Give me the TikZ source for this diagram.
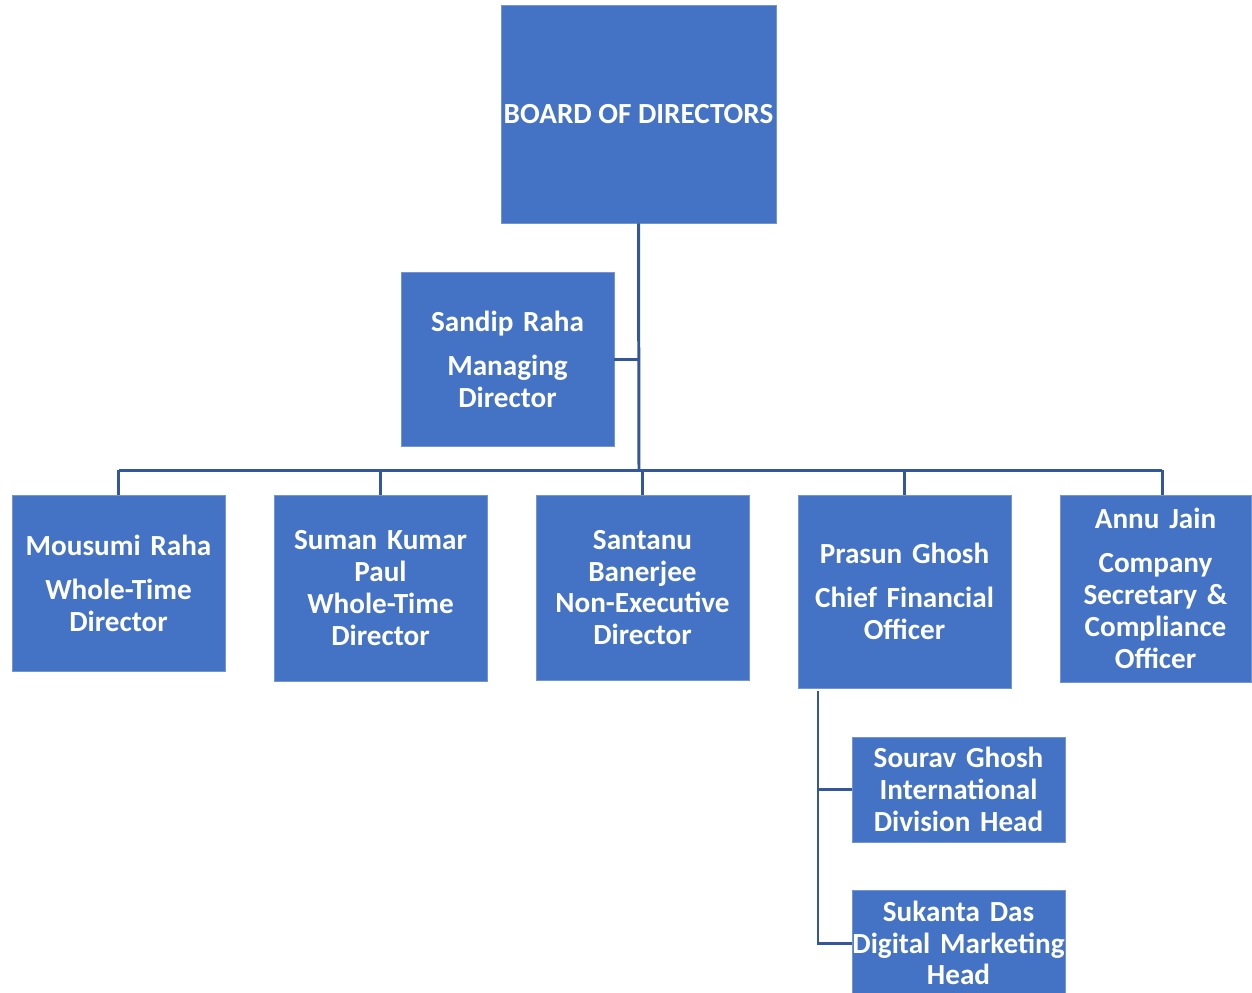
\documentclass[tikz,border=0pt]{standalone}
\usepackage{fontspec}
\setmainfont{Carlito}
\usepackage{tikz}

\definecolor{boxblue}{HTML}{4472C4}
\definecolor{lineblue}{RGB}{52,86,155}

\begin{document}
\begin{tikzpicture}[x=0.02cm,y=-0.02cm,
    box/.style={draw=boxblue!75!white, fill=boxblue, text=white, align=center,
        font=\bfseries\fontsize{16.6}{18.1}\selectfont, inner sep=0pt},
    post/.style={box, text width=4.26cm, minimum height=#1},
    link/.style={draw=lineblue, line width=1.7pt}]
\useasboundingbox (0,0) rectangle (1252,992);
\node (board) at (638.5,114) [box, minimum width=5.5cm, minimum height=4.36cm] {BOARD OF DIRECTORS};
\node (sandip) at (507.5,359) [post=3.48cm] {Sandip Raha\\[7pt]Managing\\Director};
\node (mousumi) at (118.5,583) [post=3.52cm] {Mousumi Raha\\[7pt]Whole-Time\\Director};
\node (suman) at (380.5,588) [post=3.72cm] {Suman Kumar\\Paul\\Whole-Time\\Director};
\node (santanu) at (642.5,587.5) [post=3.7cm] {Santanu\\Banerjee\\Non-Executive\\Director};
\node (prasun) at (904.5,591.5) [post=3.86cm] {Prasun Ghosh\\[7pt]Chief Financial\\Officer};
\node (annu) at (1155.5,588.5) [post=3.74cm, text width=3.82cm] {Annu Jain\\[7pt]Company\\Secretary \&\\Compliance\\Officer};
\node (sourav) at (958.5,789.5) [post=2.1cm] {Sourav Ghosh\\International\\Division Head};
\node (sukanta) at (958.5,943) [post=2.12cm] {Sukanta Das\\Digital Marketing\\Head};
% connectors
\coordinate (bus) at (639,470);
\coordinate (sub) at (818,691);
\draw [link] (board.south) -- (bus);
\draw [link] (sandip.east) -- (sandip.east -| bus);
\draw [link] (mousumi.north |- bus) -- ([xshift=0.13cm]annu.north |- bus);
\foreach \n in {mousumi,suman,santanu,prasun}
    \draw [link] (\n.north |- bus) -- (\n.north);
\draw [link] ([xshift=0.13cm]annu.north |- bus) -- ([xshift=0.13cm]annu.north);
\draw [link] (sub) -- (sub |- sukanta.west) -- (sukanta.west);
\draw [link] (sub |- sourav.west) -- (sourav.west);
\end{tikzpicture}
\end{document}
